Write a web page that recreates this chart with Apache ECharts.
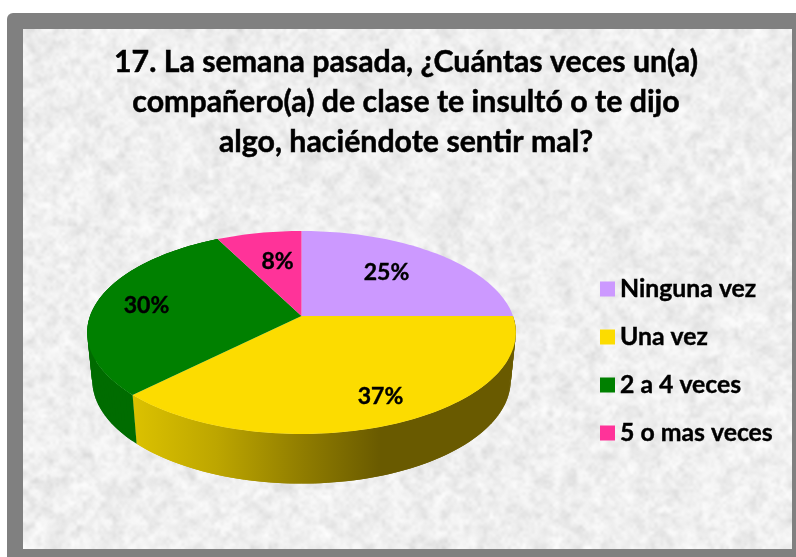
<!DOCTYPE html>
<html><head><meta charset="utf-8">
<style>html,body{margin:0;padding:0;background:#fff}#c{width:796px;height:557px}</style>
<script src="https://cdn.jsdelivr.net/npm/echarts@6/dist/echarts.min.js"></script>
</head><body><div id="c"></div>
<script>
const titleLines = ['17. La semana pasada, ¿Cuántas veces un(a)','compañero(a) de clase te insultó o te dijo','algo, haciéndote sentir mal?'];
const categories = ['Ninguna vez','Una vez','2 a 4 veces','5 o mas veces'];
const values = [25, 37.49, 30.01, 7.5];
const percentLabels = ['25%','37%','30%','8%'];
const colors = ['#CC99FF','#FCDC00','#008000','#FF3399'];

// Perspective pie layout
const APEX = {x:301.5, y:316};
const TOP = {b:211.5, a:98.8, c:316};
const BASE = {b:206.5, a:101, c:363};
const K = 0.1625;
const LABEL_OFFSET = [[85,-43],[79,81],[-155,-10],[-24,-54]];

function project(frac, g){
  const t = frac*2*Math.PI, x = Math.sin(t), y = -Math.cos(t), w = 1-K*y;
  return [APEX.x + g.b*x/w, g.c + g.a*y/w];
}
const total = values.reduce((s,v)=>s+v,0);
function range(i){
  let s=0; for(let j=0;j<i;j++) s+=values[j];
  return [s/total,(s+values[i])/total];
}
const sideFill = [
  null,
  {type:'linear',global:true,x:132,y:0,x2:515,y2:0,colorStops:[
    {offset:0,color:'#DCC200'},{offset:0.22,color:'#BDA600'},{offset:0.45,color:'#8F7C00'},{offset:0.65,color:'#695A00'},{offset:1,color:'#695A00'}]},
  '#006C00',
  null
];
function sliceSeries(i){
  return {
    type:'custom', name:categories[i], coordinateSystem:'none',
    data:[values[i]], itemStyle:{color:colors[i]}, silent:true,
    renderItem(){
      const [f0,f1]=range(i), n=Math.max(8,Math.round((f1-f0)*240));
      const topPts=[], basePts=[];
      for(let k=0;k<=n;k++){ const f=f0+(f1-f0)*k/n; topPts.push(project(f,TOP)); basePts.push(project(f,BASE)); }
      const children=[];
      if(sideFill[i]){
        for(let k=0;k<n;k++){
          const e=Math.min(n,k+2);
          children.push({type:'polygon',z2:1,shape:{points:[topPts[k],topPts[e],basePts[e],basePts[k]]},style:{fill:sideFill[i]}});
        }
      }
      children.push({type:'polygon',z2:2,shape:{points:[[APEX.x,APEX.y]].concat(topPts)},style:{fill:colors[i]}});
      children.push({type:'text',z2:3,x:APEX.x+LABEL_OFFSET[i][0],y:APEX.y+LABEL_OFFSET[i][1],
        style:{text:percentLabels[i],fill:'#000',stroke:'#000',lineWidth:0.4,font:'bold 23px Lato',align:'center',verticalAlign:'middle'}});
      return {type:'group',children};
    }
  };
}
function texture(w,h){
  let seed=12345; const rnd=()=>{seed=(seed*1664525+1013904223)%4294967296;return seed/4294967296;};
  const layer=(cell,lo,hi)=>{
    const c=document.createElement('canvas');c.width=Math.ceil(w/cell);c.height=Math.ceil(h/cell);
    const x=c.getContext('2d'),d=x.createImageData(c.width,c.height);
    for(let p=0;p<d.data.length;p+=4){const v=lo+(hi-lo)*Math.pow(rnd(),0.5);
      d.data[p]=d.data[p+1]=d.data[p+2]=v;d.data[p+3]=255;}
    x.putImageData(d,0,0);return c;
  };
  const out=document.createElement('canvas');out.width=w;out.height=h;
  const g=out.getContext('2d');g.imageSmoothingEnabled=true;g.imageSmoothingQuality='high';
  g.drawImage(layer(6,200,255),0,0,w,h);
  g.globalAlpha=0.4;g.drawImage(layer(3,205,255),0,0,w,h);
  g.globalAlpha=0.3;g.drawImage(layer(12,215,255),0,0,w,h);
  return out;
}
const chart = echarts.init(document.getElementById('c'),null,{renderer:'canvas'});
chart.setOption({
  animation:false,
  backgroundColor:'#fff',
  title:{text:titleLines.join('\n'),left:401,top:37,textAlign:'center',
    textStyle:{fontFamily:'Lato',fontWeight:'bold',fontSize:30.3,lineHeight:40,color:'#000',textBorderColor:'#000',textBorderWidth:0.5}},
  legend:{orient:'vertical',left:595,top:269,itemWidth:15,itemHeight:15,itemGap:18,icon:'rect',selectedMode:false,
    data:categories,textStyle:{fontFamily:'Lato',fontWeight:'bold',fontSize:24.8,lineHeight:30,color:'#000',textBorderColor:'#000',textBorderWidth:0.4,padding:[0,0,0,0]}},
  graphic:[
    {type:'rect',z:-10,silent:true,shape:{x:7,y:13,width:800,height:560,r:6},style:{fill:'#808080'}},
    {type:'image',z:-9,silent:true,style:{image:texture(769,520),x:23,y:29,width:769,height:520}}
  ],
  series:categories.map((_,i)=>sliceSeries(i))
});
</script></body></html>
